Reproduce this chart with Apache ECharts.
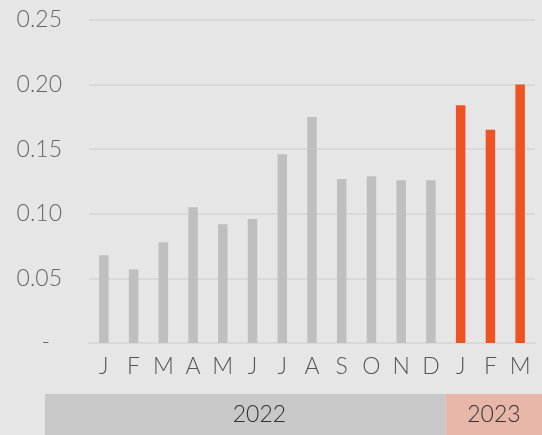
<!DOCTYPE html>
<html>
<head>
<meta charset="utf-8">
<script src="https://cdn.jsdelivr.net/npm/echarts@6/dist/echarts.min.js"></script>
<style>
  html, body { margin: 0; padding: 0; background: #e6e6e6; }
  #chart { width: 542px; height: 435px; }
</style>
</head>
<body>
<div id="chart"></div>
<script>
// months Jan 2022 .. Mar 2023
var months = ['J', 'F', 'M', 'A', 'M', 'J', 'J', 'A', 'S', 'O', 'N', 'D', 'J', 'F', 'M'];
var years = ['2022', '2022', '2022', '2022', '2022', '2022', '2022', '2022', '2022', '2022', '2022', '2022', '2023', '2023', '2023'];
var values = [0.068, 0.057, 0.078, 0.105, 0.092, 0.096, 0.146, 0.175, 0.127, 0.129, 0.126, 0.126, 0.184, 0.165, 0.200];
var yTicks = [0, 0.05, 0.10, 0.15, 0.20, 0.25];

var barColors = { '2022': '#bfbfbf', '2023': '#f05323' };
var bandColors = { '2022': '#c8c8c8', '2023': '#e8b6a8' };
var font = 'Lato, "Open Sans", sans-serif';

var chart = echarts.init(document.getElementById('chart'));

chart.setOption({
  backgroundColor: '#e6e6e6',
  animation: false,
  grid: { left: 89, right: 7, top: 20, bottom: 92 },
  xAxis: {
    type: 'category',
    data: months,
    axisLine: { lineStyle: { color: '#d9d9d9', width: 2 } },
    axisTick: { show: false },
    axisLabel: {
      color: '#555',
      fontFamily: font,
      fontWeight: 300,
      fontSize: 23,
      margin: 12
    }
  },
  yAxis: {
    type: 'value',
    min: 0,
    max: yTicks[yTicks.length - 1],
    interval: 0.05,
    axisLine: { show: false },
    axisTick: { show: false },
    splitLine: { lineStyle: { color: '#d9d9d9', width: 2 } },
    axisLabel: {
      color: '#666',
      fontFamily: font,
      fontWeight: 300,
      fontSize: 23,
      margin: 27,
      formatter: function (v) {
        return v === 0 ? '{z|-}' : v.toFixed(2);
      },
      rich: {
        z: { color: '#666', fontFamily: font, fontSize: 23, fontWeight: 300, padding: [0, 12, 0, 0] }
      }
    }
  },
  series: [{
    type: 'bar',
    barWidth: 9.5,
    data: values.map(function (v, i) {
      return { value: v, itemStyle: { color: barColors[years[i]] } };
    })
  }]
});

// year band under the month labels
var xSplit = (chart.convertToPixel({ xAxisIndex: 0 }, 11) + chart.convertToPixel({ xAxisIndex: 0 }, 12)) / 2;
var bandTop = 394, bandLeft = 45, bandRight = 542, bandH = 435 - bandTop;

chart.setOption({
  graphic: [
    { type: 'rect', shape: { x: bandLeft, y: bandTop, width: xSplit - bandLeft, height: bandH }, style: { fill: bandColors['2022'] } },
    { type: 'rect', shape: { x: xSplit, y: bandTop, width: bandRight - xSplit, height: bandH }, style: { fill: bandColors['2023'] } },
    { type: 'text', x: (bandLeft + xSplit) / 2 + 14, y: bandTop + bandH / 2,
      style: { text: '2022', fill: '#333', font: '300 23px ' + font, textAlign: 'center', textVerticalAlign: 'middle' } },
    { type: 'text', x: (xSplit + bandRight) / 2, y: bandTop + bandH / 2,
      style: { text: '2023', fill: '#333', font: '300 23px ' + font, textAlign: 'center', textVerticalAlign: 'middle' } }
  ]
});
</script>
</body>
</html>
